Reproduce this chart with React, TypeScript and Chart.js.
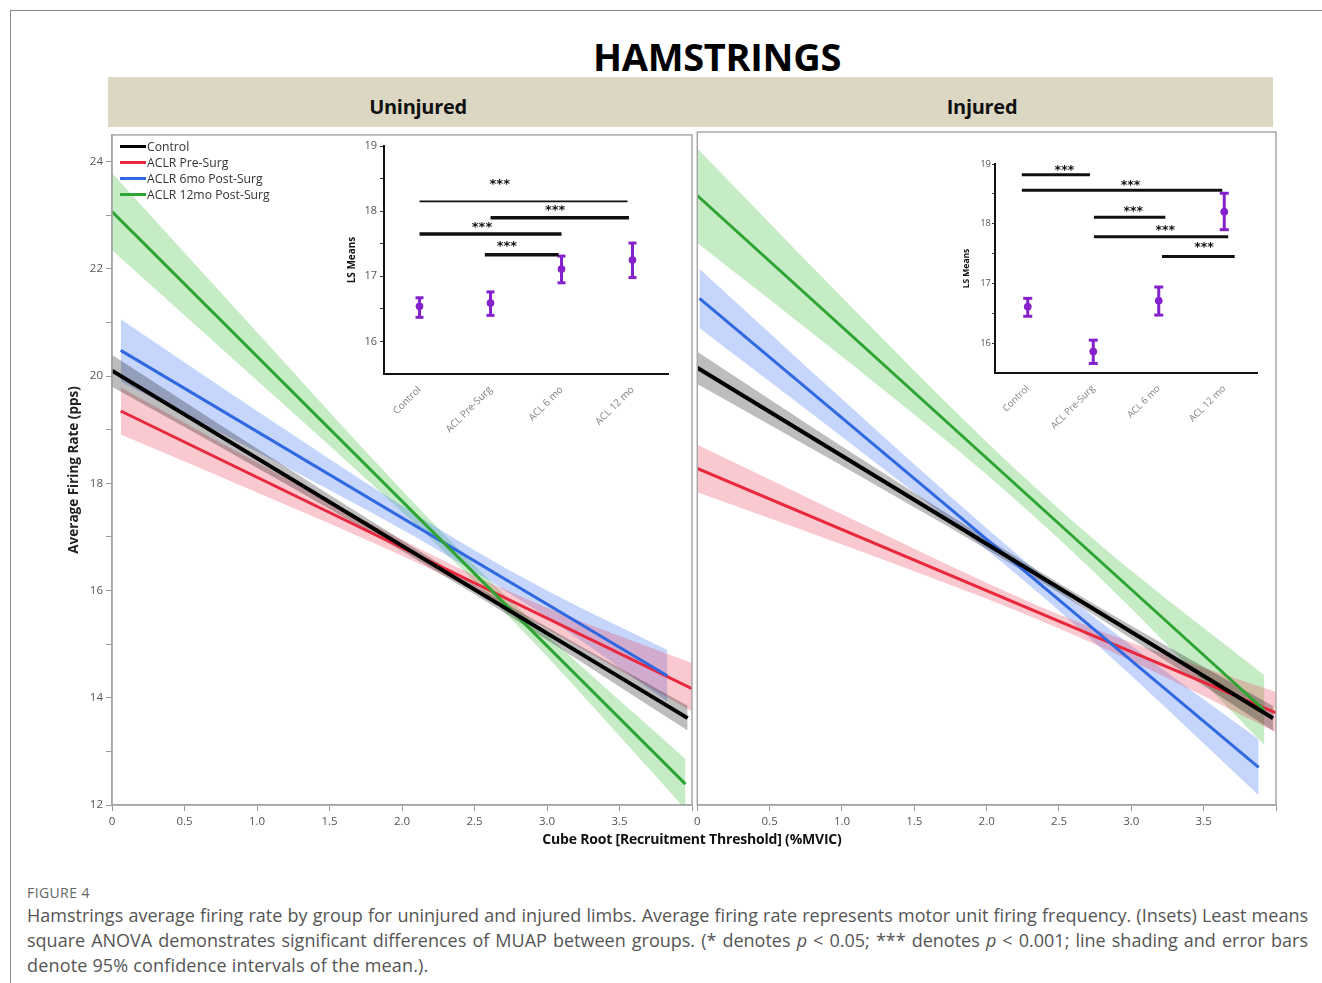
import React, { useEffect, useRef } from 'react';
import { Chart, registerables } from 'chart.js';

Chart.register(...registerables);
Chart.defaults.font.family = '"Open Sans", sans-serif';

// ---------- DATA ----------
const groups = ['Control', 'ACLR Pre-Surg', 'ACLR 6mo Post-Surg', 'ACLR 12mo Post-Surg'];
const xTickValues = [0, 0.5, 1, 1.5, 2, 2.5, 3, 3.5, 4];
const yTickValues = [12, 13, 14, 15, 16, 17, 18, 19, 20, 21, 22, 23, 24];

// Uninjured panel: fitted lines (start, end) and 95% CI band edges
const uninjLineX = [[0, 3.97], [0.06, 4.0], [0.06, 3.83], [0, 3.955]];
const uninjLineY = [[20.10, 13.62], [19.35, 14.17], [20.48, 14.41], [23.07, 12.39]];
const uninjBandX = [[0, 1, 2, 2.5, 3, 3.97], [0.06, 1, 2, 2.5, 3, 4.0], [0.06, 1, 2, 2.5, 3, 3.83], [0, 1, 2, 2.5, 3, 3.955]];
const uninjBandHi = [
  [20.40, 18.65, 16.94, 16.11, 15.32, 13.85],
  [19.79, 18.39, 16.95, 16.28, 15.68, 14.65],
  [21.06, 19.35, 17.58, 16.75, 16.00, 14.89],
  [23.79, 20.82, 17.87, 16.47, 15.17, 12.86],
];
const uninjBandLo = [
  [19.80, 18.29, 16.74, 15.93, 15.08, 13.39],
  [18.91, 17.83, 16.65, 16.00, 15.28, 13.75],
  [19.90, 18.59, 17.14, 16.35, 15.50, 13.93],
  [22.35, 19.92, 17.47, 16.17, 14.77, 11.92],
];

// Injured panel
const injLineX = [[0, 3.98], [0, 4.0], [0.015, 3.88], [0, 3.92]];
const injLineY = [[20.12, 13.61], [18.25, 13.71], [21.41, 12.70], [23.32, 13.76]];
const injBandX = [[0, 1, 2, 2.5, 3, 3.98], [0, 1, 2, 2.5, 3, 4.0], [0.015, 1, 2, 2.5, 3, 3.88], [0, 1, 2, 2.5, 3, 3.92]];
const injBandHi = [
  [20.42, 18.66, 16.95, 16.12, 15.33, 13.84],
  [18.69, 17.40, 16.13, 15.54, 15.02, 14.10],
  [21.96, 19.54, 17.14, 16.01, 14.96, 13.22],
  [24.20, 21.43, 18.74, 17.50, 16.35, 14.41],
];
const injBandLo = [
  [19.82, 18.30, 16.75, 15.94, 15.09, 13.38],
  [17.81, 16.84, 15.83, 15.28, 14.68, 13.35],
  [20.86, 18.84, 16.74, 15.61, 14.40, 12.18],
  [22.44, 20.33, 18.14, 16.94, 15.65, 13.11],
];

// Insets (LS means with 95% CI)
const insetCats = ['Control', 'ACL Pre-Surg', 'ACL 6 mo', 'ACL 12 mo'];
const insetYTicks = [16, 16.5, 17, 17.5, 18, 18.5, 19];
const uninjMean = [16.54, 16.59, 17.11, 17.25];
const uninjLo = [16.37, 16.40, 16.90, 16.98];
const uninjHi = [16.67, 16.76, 17.31, 17.51];
const uninjSigFrom = [0, 1, 0, 0.92];
const uninjSigTo = [2.93, 2.95, 2.0, 1.96];
const uninjSigY = [18.15, 17.90, 17.65, 17.33];
const uninjStarX = [1.13, 1.91, 0.88, 1.23];
const uninjStarY = [18.45, 18.05, 17.80, 17.50];

const injMean = [16.61, 15.86, 16.71, 18.20];
const injLo = [16.45, 15.66, 16.47, 17.90];
const injHi = [16.75, 16.05, 16.94, 18.51];
const injSigFrom = [-0.09, -0.09, 1.01, 1.01, 2.05];
const injSigTo = [0.95, 2.97, 2.10, 3.06, 3.16];
const injSigY = [18.82, 18.56, 18.11, 17.78, 17.45];
const injStarX = [0.56, 1.57, 1.61, 2.10, 2.69];
const injStarY = [18.94, 18.68, 18.25, 17.93, 17.64];
const starText = '***';

// ---------- STYLE ----------
const lineColors = ['#000000', '#e8283c', '#2f68e0', '#2ea532'];
const bandColors = ['rgba(0,0,0,0.26)', 'rgba(238,60,85,0.28)', 'rgba(60,110,240,0.29)', 'rgba(60,190,60,0.29)'];
const purple = '#8420cc';
const uninjSigWidths = [1.6, 3.5, 3.5, 3.5];
const injSigWidths = [3, 3, 3, 3, 3];

const framePlugin = {
  id: 'frame',
  afterDraw(chart: any) {
    const { ctx, chartArea } = chart;
    ctx.save();
    ctx.strokeStyle = '#a8a8a8';
    ctx.lineWidth = 1.5;
    ctx.strokeRect(chartArea.left, chartArea.top, chartArea.right - chartArea.left, chartArea.bottom - chartArea.top);
    ctx.restore();
  },
};

function mainConfig(lineX: number[][], lineY: number[][], bandX: number[][], bandHi: number[][], bandLo: number[][], showY: boolean): any {
  const datasets: any[] = [];
  [0, 3, 2, 1].forEach((g) => {
    datasets.push({
      label: groups[g],
      data: lineX[g].map((x, i) => ({ x, y: lineY[g][i] })),
      borderColor: lineColors[g],
      borderWidth: g === 0 ? 4 : 3,
      pointRadius: 0,
      fill: false,
    });
  });
  [0, 1, 2, 3].forEach((g) => {
    const hiIdx = datasets.length;
    datasets.push({
      label: groups[g] + ' upper',
      data: bandX[g].map((x, i) => ({ x, y: bandHi[g][i] })),
      borderColor: 'transparent',
      borderWidth: 0,
      pointRadius: 0,
      fill: false,
      cubicInterpolationMode: 'monotone',
    });
    datasets.push({
      label: groups[g] + ' lower',
      data: bandX[g].map((x, i) => ({ x, y: bandLo[g][i] })),
      borderColor: 'transparent',
      borderWidth: 0,
      pointRadius: 0,
      fill: hiIdx,
      backgroundColor: bandColors[g],
      cubicInterpolationMode: 'monotone',
    });
  });
  return {
    type: 'line',
    data: { datasets },
    plugins: [framePlugin],
    options: {
      animation: false,
      responsive: false,
      maintainAspectRatio: false,
      layout: { padding: { top: 7, right: 4, left: showY ? 0 : 7, bottom: 0 } },
      plugins: {
        legend: { display: false },
        tooltip: { enabled: false },
        filler: { drawTime: 'beforeDatasetsDraw', propagate: false },
      },
      scales: {
        x: {
          type: 'linear',
          min: 0,
          max: 4,
          afterBuildTicks: (s: any) => { s.ticks = xTickValues.map((v) => ({ value: v })); },
          afterFit: (s: any) => { s.height = 30; },
          ticks: {
            autoSkip: false,
            maxRotation: 0,
            padding: 4,
            color: '#555',
            font: { size: 11.5 },
            callback: (v: any) => (v === 0 ? '0' : v >= 4 ? '' : Number(v).toFixed(1)),
          },
          grid: { display: true, drawOnChartArea: false, tickLength: 6, color: '#9a9a9a' },
          border: { display: true, color: '#a0a0a0', width: 1.5 },
        },
        y: {
          display: showY,
          min: 12,
          max: 24.5,
          afterBuildTicks: (s: any) => { s.ticks = yTickValues.map((v) => ({ value: v })); },
          afterFit: (s: any) => { s.width = showY ? 52 : 0; },
          ticks: {
            padding: 3,
            color: '#555',
            font: { size: 11.5 },
            callback: (v: any) => (v % 2 === 0 ? String(v) : ''),
          },
          grid: { display: true, drawOnChartArea: false, tickLength: 6, color: '#9a9a9a' },
          border: { display: true, color: '#a0a0a0', width: 1.5 },
          title: {
            display: true,
            text: 'Average Firing Rate (pps)',
            color: '#222',
            font: { size: 13.5, weight: 'bold' },
            padding: { top: 6, bottom: 0 },
          },
        },
      },
    },
  };
}

function insetConfig(
  mean: number[], lo: number[], hi: number[],
  sigFrom: number[], sigTo: number[], sigY: number[], sigWidths: number[],
  starX: number[], starY: number[], s: any,
): any {
  const ds: any[] = [];
  sigFrom.forEach((f, k) => {
    ds.push({
      data: [{ x: f, y: sigY[k] }, { x: sigTo[k], y: sigY[k] }],
      borderColor: '#111',
      borderWidth: sigWidths[k],
      pointRadius: 0,
      clip: false,
    });
  });
  ds.push({
    data: mean.map((m, i) => ({ x: i, y: m })),
    showLine: false,
    pointRadius: s.dot,
    pointBackgroundColor: purple,
    pointBorderColor: purple,
    borderColor: purple,
    clip: false,
  });
  ds.push({
    data: [...lo.map((v, i) => ({ x: i, y: v })), ...hi.map((v, i) => ({ x: i, y: v }))],
    showLine: false,
    pointStyle: 'line',
    pointRadius: s.cap,
    pointBorderWidth: 3,
    pointBorderColor: purple,
    borderColor: purple,
    clip: false,
  });
  lo.forEach((v, i) => {
    ds.push({
      data: [{ x: i, y: v }, { x: i, y: hi[i] }],
      borderColor: purple,
      borderWidth: 3,
      pointRadius: 0,
      clip: false,
    });
  });
  const starPlugin = {
    id: 'stars',
    afterDatasetsDraw(chart: any) {
      const { ctx, scales } = chart;
      ctx.save();
      ctx.fillStyle = '#111';
      ctx.font = `bold ${s.star}px "DejaVu Sans", sans-serif`;
      ctx.textAlign = 'center';
      ctx.textBaseline = 'middle';
      starX.forEach((x, k) => {
        ctx.fillText(starText, scales.x.getPixelForValue(x), scales.y.getPixelForValue(starY[k]) + 3);
      });
      ctx.restore();
    },
  };
  return {
    type: 'line',
    data: { datasets: ds },
    plugins: [starPlugin],
    options: {
      animation: false,
      responsive: false,
      maintainAspectRatio: false,
      layout: { padding: { top: s.padTop, right: s.padRight, left: 0, bottom: 0 } },
      plugins: { legend: { display: false }, tooltip: { enabled: false } },
      scales: {
        x: {
          type: 'linear',
          min: -0.5,
          max: 3.5,
          afterBuildTicks: (sc: any) => { sc.ticks = insetCats.map((_, i) => ({ value: i })); },
          afterFit: (sc: any) => { sc.height = s.xHeight; },
          ticks: {
            autoSkip: false,
            minRotation: 45,
            maxRotation: 45,
            padding: 2,
            color: '#808080',
            font: { size: s.catFont },
            callback: (v: any) => insetCats[v] ?? '',
          },
          grid: { display: false },
          border: { display: true, color: '#111', width: 2 },
        },
        y: {
          min: 15.5,
          max: 19,
          afterBuildTicks: (sc: any) => { sc.ticks = insetYTicks.map((v) => ({ value: v })); },
          afterFit: (sc: any) => { sc.width = s.yWidth; },
          ticks: {
            padding: s.tickPad,
            color: '#555',
            font: { size: s.tickFont },
            callback: (v: any) => (Number.isInteger(v) ? String(v) : ''),
          },
          grid: { display: true, drawOnChartArea: false, tickLength: s.tickLen, color: '#333' },
          border: { display: true, color: '#111', width: 2 },
          title: {
            display: true,
            text: 'LS Means',
            color: '#111',
            font: { size: s.titleFont, weight: 'bold' },
            padding: { top: 4, bottom: 0 },
          },
        },
      },
    },
  };
}

function ChartBox({ make, left, top, width, height }: any) {
  const ref = useRef<HTMLCanvasElement>(null);
  useEffect(() => {
    const chart = new Chart(ref.current as HTMLCanvasElement, make());
    return () => chart.destroy();
  }, []);
  return (
    <canvas
      ref={ref}
      width={width}
      height={height}
      style={{ position: 'absolute', left, top, width, height }}
    />
  );
}

const abs = (o: any) => ({ position: 'absolute' as const, ...o });

export default function App() {
  const leftInset = { padTop: 11, padRight: 14, xHeight: 66, yWidth: 42, tickFont: 11, titleFont: 10, catFont: 10, star: 13, cap: 4, dot: 3.5, tickLen: 4, tickPad: 3 };
  const rightInset = { padTop: 10, padRight: 12, xHeight: 62, yWidth: 38, tickFont: 9.5, titleFont: 8.5, catFont: 9.5, star: 12.5, cap: 4.5, dot: 3.5, tickLen: 3, tickPad: 1 };
  return (
    <div style={abs({ left: 0, top: 0, width: 1322, height: 983, background: '#fff', overflow: 'hidden', fontFamily: '"Open Sans", sans-serif', position: 'fixed' })}>
      <div style={abs({ left: 10, top: 10, width: 1330, height: 1000, borderTop: '1px solid #8a8a8a', borderLeft: '1px solid #8a8a8a' })} />
      <div style={abs({ left: 467, top: 35, width: 500, textAlign: 'center', fontSize: 38, fontWeight: 700, lineHeight: '42px', color: '#000', letterSpacing: -0.3 })}>HAMSTRINGS</div>
      <div style={abs({ left: 108, top: 77, width: 1165, height: 50, background: '#dcd7c2' })} />
      <div style={abs({ left: 268, top: 94, width: 300, textAlign: 'center', fontSize: 20, fontWeight: 700, lineHeight: '26px', color: '#111', letterSpacing: -0.3 })}>Uninjured</div>
      <div style={abs({ left: 832, top: 94, width: 300, textAlign: 'center', fontSize: 20, fontWeight: 700, lineHeight: '26px', color: '#111', letterSpacing: -0.3 })}>Injured</div>

      <ChartBox make={() => mainConfig(uninjLineX, uninjLineY, uninjBandX, uninjBandHi, uninjBandLo, true)} left={60} top={125} width={636} height={710} />
      <ChartBox make={() => mainConfig(injLineX, injLineY, injBandX, injBandHi, injBandLo, false)} left={690} top={125} width={590} height={710} />
      <ChartBox make={() => insetConfig(uninjMean, uninjLo, uninjHi, uninjSigFrom, uninjSigTo, uninjSigY, uninjSigWidths, uninjStarX, uninjStarY, leftInset)} left={342} top={135} width={340} height={305} />
      <ChartBox make={() => insetConfig(injMean, injLo, injHi, injSigFrom, injSigTo, injSigY, injSigWidths, injStarX, injStarY, rightInset)} left={957} top={154} width={312} height={281} />

      {groups.map((g, i) => (
        <div key={g} style={abs({ left: 120, top: 138 + i * 16, height: 16, display: 'flex', alignItems: 'center', fontSize: 12.2, color: '#333', whiteSpace: 'nowrap' })}>
          <span style={{ display: 'inline-block', width: 26, height: 3, background: lineColors[i], marginRight: 1 }} />
          <span>{g}</span>
        </div>
      ))}

      <div style={abs({ left: 392, top: 830, width: 600, textAlign: 'center', fontSize: 14, fontWeight: 700, lineHeight: '18px', color: '#111', letterSpacing: -0.2 })}>
        Cube Root [Recruitment Threshold] (%MVIC)
      </div>

      <div style={abs({ left: 27, top: 884, fontSize: 14, lineHeight: '18px', color: '#666', letterSpacing: 0.4 })}>FIGURE 4</div>
      <div style={abs({ left: 27, top: 903, width: 1281, fontSize: 18, lineHeight: '25px', color: '#555' })}>
        <div style={{ textAlign: 'justify', textAlignLast: 'justify', whiteSpace: 'nowrap' }}>
          Hamstrings average firing rate by group for uninjured and injured limbs. Average firing rate represents motor unit firing frequency. (Insets) Least means
        </div>
        <div style={{ textAlign: 'justify', textAlignLast: 'justify', whiteSpace: 'nowrap' }}>
          square ANOVA demonstrates significant differences of MUAP between groups. (* denotes <i>p</i> &lt; 0.05; *** denotes <i>p</i> &lt; 0.001; line shading and error bars
        </div>
        <div style={{ letterSpacing: 0.17 }}>denote 95% confidence intervals of the mean.).</div>
      </div>
    </div>
  );
}
